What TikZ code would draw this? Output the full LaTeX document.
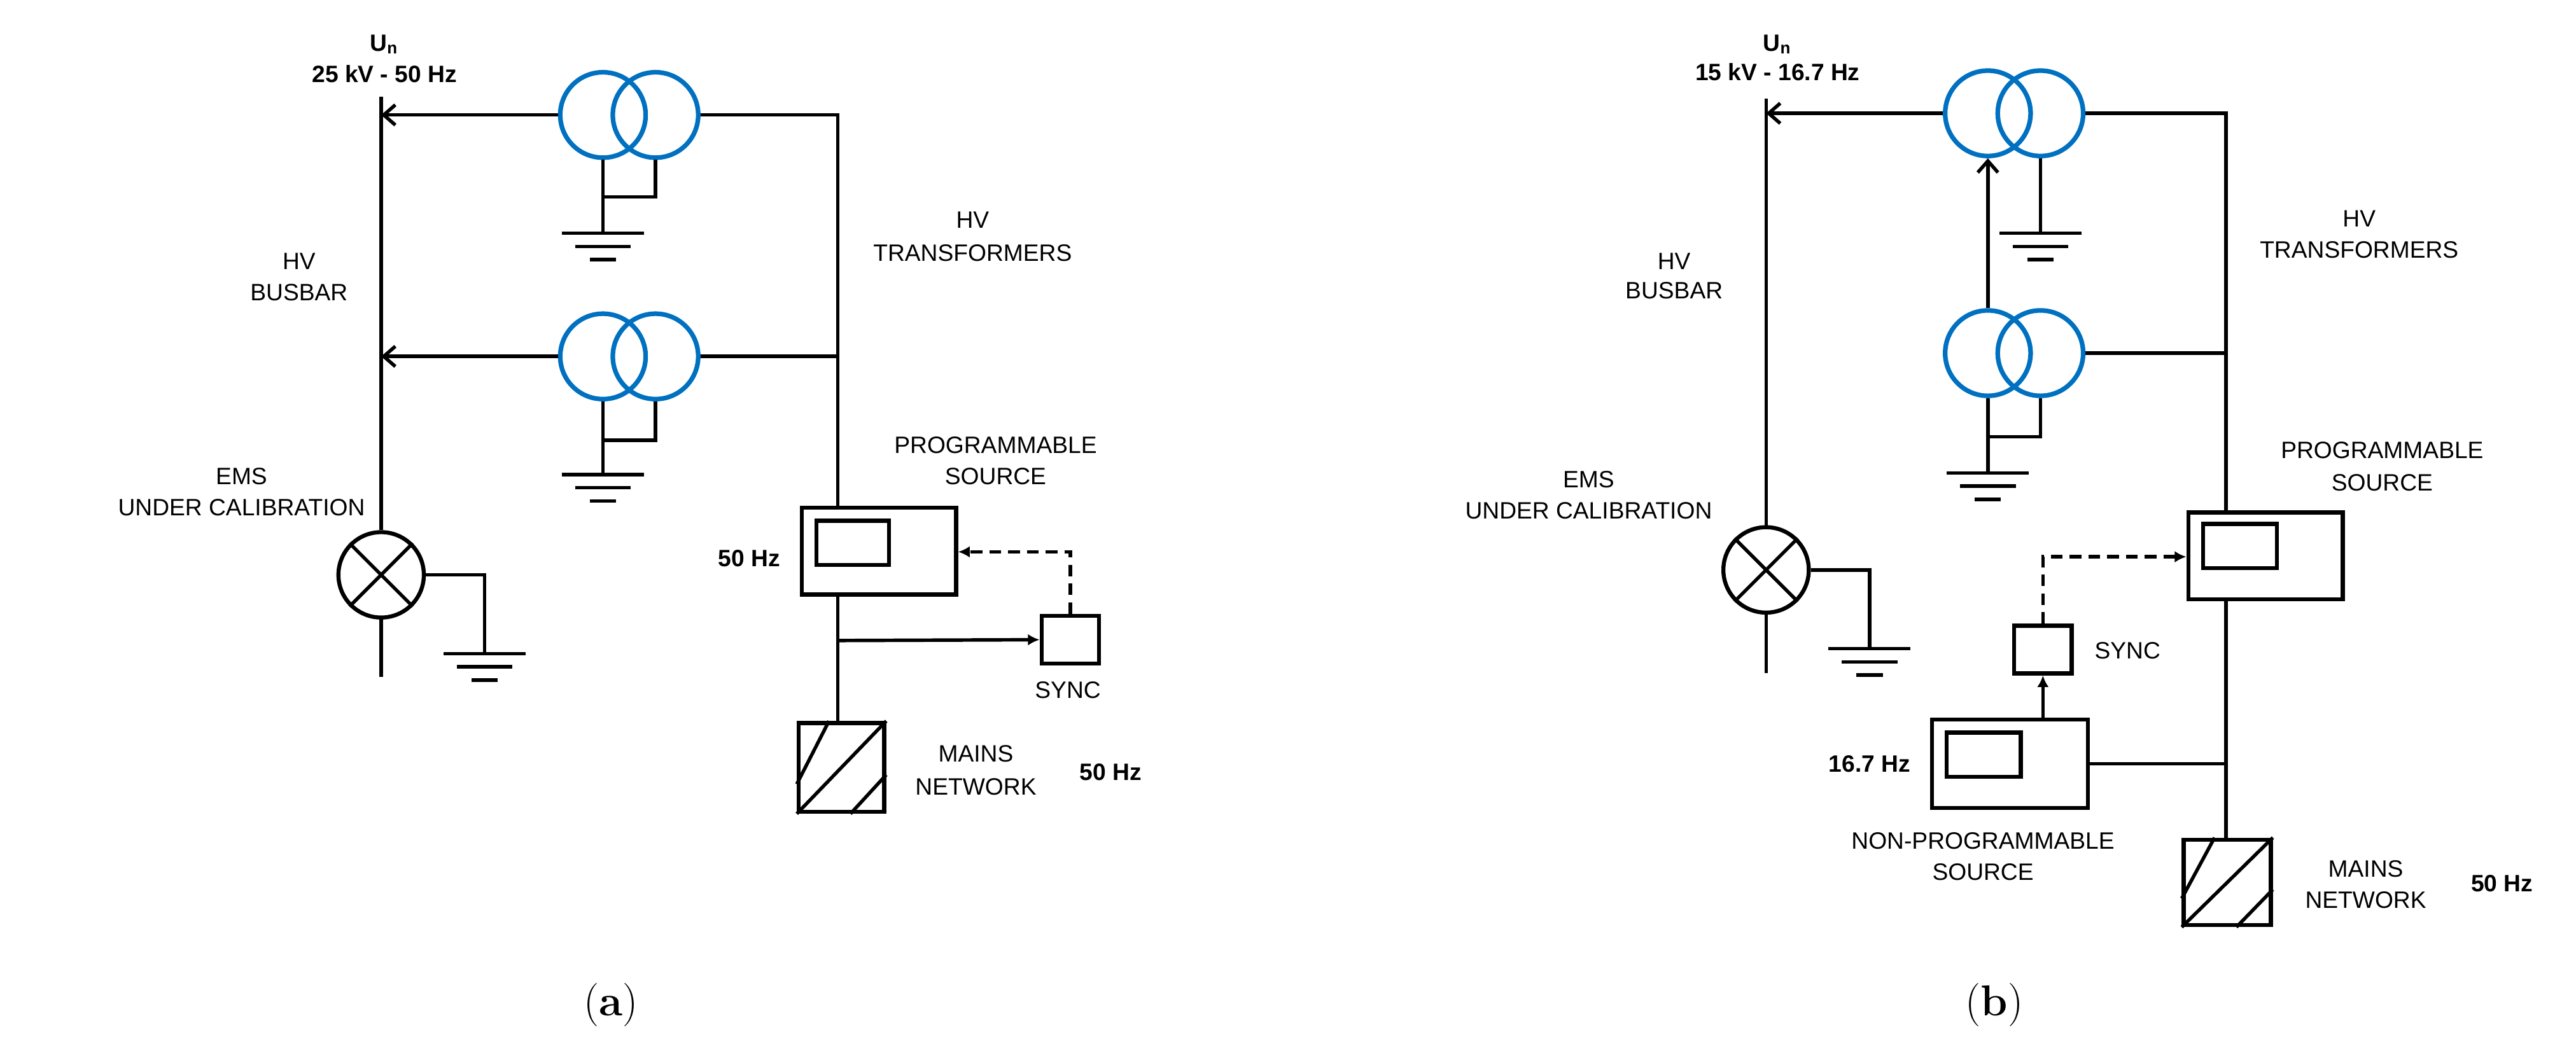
\documentclass[tikz,border=0pt]{standalone}
\usepackage{fontspec}
\setmainfont{Liberation Sans}
\newfontfamily\capfont{Latin Modern Roman}
\usetikzlibrary{arrows.meta,calc}
\definecolor{tblue}{RGB}{0,112,192}
\begin{document}
\begin{tikzpicture}[x=0.02cm,y=-0.02cm,line width=1.2pt,
  lbl/.style={font=\fontsize{8.2}{10}\selectfont,align=center,inner sep=0},
  blbl/.style={font=\fontsize{8.2}{10}\selectfont\bfseries,align=center,inner sep=0},
  coil/.style={draw=tblue,line width=1.6pt,circle,minimum size=52*0.02cm,inner sep=0},
  box/.style={draw,line width=1.4pt},
  arr/.style={-{Straight Barb[length=4pt,width=7pt]}},
  darr/.style={dashed,-{Latex[length=4pt,width=4pt]},dash pattern=on 4pt off 2.5pt},
  sarr/.style={-{Latex[length=4pt,width=4pt]}}]
\useasboundingbox (0,0) rectangle (1568,644);
\newcommand{\gnd}[3]{% x, y top line, name
  \draw (#1-25,#2) -- (#1+25,#2);
  \draw (#1-17,#2+8) -- (#1+17,#2+8);
  \draw (#1-8,#2+16) -- (#1+8,#2+16);}
\newcommand{\hatchbox}[5]{% x1 y1 x2 y2 name
  \node[box,minimum width={(#3-#1)*0.02cm},minimum height={(#4-#2)*0.02cm},inner sep=0,anchor=north west] (#5) at (#1,#2) {};
  \draw ($(#5.south west)!0.32!(#5.north west)$) -- ($(#5.north west)!0.36!(#5.north east)$);
  \draw (#5.south west) -- (#5.north east);
  \draw ($(#5.south west)!0.6!(#5.south east)$) -- ($(#5.south east)!0.42!(#5.north east)$);}
% ================= (a) =================
\coordinate (aBt) at (232,59);
\coordinate (aBb) at (232,412);
\node[blbl] (aUn) at (234,27) {U\textsubscript{n}};
\node[blbl] (aUv) at (234,45) {25 kV - 50 Hz};
\node[coil] (aT1l) at (367,70) {};
\node[coil] (aT1r) at (399,70) {};
\node[coil] (aT2l) at (367,217) {};
\node[coil] (aT2r) at (399,217) {};
\node[draw,circle,minimum size=52*0.02cm,inner sep=0,line width=1.4pt] (aEMS) at (232,350) {};
\draw (aEMS.north west) -- (aEMS.south east) (aEMS.north east) -- (aEMS.south west);
\draw (aBt) -- (aEMS.north);
\draw (aEMS.south) -- (aBb);
\draw[arr] (aT1l.west) -- (aT1l.west -| aBt);
\draw[arr] (aT2l.west) -- (aT2l.west -| aBt);
\node[box,minimum width=94*0.02cm,minimum height=53*0.02cm,inner sep=0] (aPS) at (535,335.5) {};
\draw[line width=1.4pt] (497,317) rectangle (541,344);
\coordinate (aR1) at (510,70);
\draw (aT1r.east) -- (aR1) -- (aR1 |- aPS.north);
\draw (aT2r.east) -- (aT2r.east -| aR1);
% grounds
\draw (aT1l.south) -- (367,142);
\draw (aT1r.south) -- (399,120) -- (367,120);
\gnd{367}{142}{}
\draw (aT2l.south) -- (367,289);
\draw (aT2r.south) -- (399,268) -- (367,268);
\gnd{367}{289}{}
\draw (aEMS.east) -- (295,350) -- (295,398);
\gnd{295}{398}{}
% sync
\node[box,minimum width=35*0.02cm,minimum height=29*0.02cm,inner sep=0] (aSy) at (651.5,389.5) {};
\draw[darr] (aSy.north) -- (651.5,336) -- (aPS.east |- 0,336);
\coordinate (aJ) at (510,390);
\draw[sarr] (aJ) -- (aSy.west);
\hatchbox{485}{439}{537}{493}{aM}
\draw (aPS.south -| aR1) -- (aM.north -| aR1);
\node[lbl] at (182,159) {HV};
\node[lbl] at (182,178) {BUSBAR};
\node[lbl] at (592,134) {HV};
\node[lbl] at (592,154) {TRANSFORMERS};
\node[lbl] at (147,290) {EMS};
\node[lbl] at (147,309) {UNDER CALIBRATION};
\node[lbl] at (606,271) {PROGRAMMABLE};
\node[lbl] at (606,290) {SOURCE};
\node[blbl] at (456,340) {50 Hz};
\node[lbl] at (650,420) {SYNC};
\node[lbl] at (594,459) {MAINS};
\node[lbl] at (594,479) {NETWORK};
\node[blbl] at (676,470) {50 Hz};
\node[font=\capfont\fontsize{15}{17}\selectfont] at (372,612) {(\textbf{a})};
% ================= (b) =================
\coordinate (bBt) at (1075,60);
\coordinate (bBb) at (1075,410);
\node[blbl] at (1082,27) {U\textsubscript{n}};
\node[blbl] at (1082,44) {15 kV - 16.7 Hz};
\node[coil] (bT1l) at (1210,69) {};
\node[coil] (bT1r) at (1242,69) {};
\node[coil] (bT2l) at (1210,215) {};
\node[coil] (bT2r) at (1242,215) {};
\node[draw,circle,minimum size=52*0.02cm,inner sep=0,line width=1.4pt] (bEMS) at (1075,347) {};
\draw (bEMS.north west) -- (bEMS.south east) (bEMS.north east) -- (bEMS.south west);
\draw (bBt) -- (bEMS.north);
\draw (bEMS.south) -- (bBb);
\draw[arr] (bT1l.west) -- (bT1l.west -| bBt);
\draw[arr] (bT2l.north) -- (bT1l.south);
\node[box,minimum width=94*0.02cm,minimum height=53*0.02cm,inner sep=0] (bPS) at (1379,338.5) {};
\draw[line width=1.4pt] (1341,319) rectangle (1386,346);
\coordinate (bR1) at (1355,69);
\draw (bT1r.east) -- (bR1) -- (bR1 |- bPS.north);
\draw (bT2r.east) -- (bT2r.east -| bR1);
\draw (bT1r.south) -- (1242,142);
\gnd{1242}{142}{}
\draw (bT2l.south) -- (1210,288);
\draw (bT2r.south) -- (1242,266) -- (1210,266);
\gnd{1210}{288}{}
\draw (bEMS.east) -- (1138,347) -- (1138,395);
\gnd{1138}{395}{}
\node[box,minimum width=35*0.02cm,minimum height=29*0.02cm,inner sep=0] (bSy) at (1243.5,395.5) {};
\draw[darr] (bSy.north) -- (1243.5,339) -- (bPS.west |- 0,339);
\node[box,minimum width=95*0.02cm,minimum height=54*0.02cm,inner sep=0] (bNP) at (1223.5,465) {};
\draw[line width=1.4pt] (1185,446) rectangle (1230,473);
\draw[sarr] (bNP.north -| bSy) -- (bSy.south);
\hatchbox{1328}{510}{1381}{562}{bM}
\draw (bPS.south -| bR1) -- (bM.north -| bR1);
\draw (bNP.east) -- (bNP.east -| bR1);
\node[lbl] at (1019,159) {HV};
\node[lbl] at (1019,177) {BUSBAR};
\node[lbl] at (1436,133) {HV};
\node[lbl] at (1436,152) {TRANSFORMERS};
\node[lbl] at (967,292) {EMS};
\node[lbl] at (967,311) {UNDER CALIBRATION};
\node[lbl] at (1450,274) {PROGRAMMABLE};
\node[lbl] at (1450,294) {SOURCE};
\node[lbl] at (1295,396) {SYNC};
\node[blbl] at (1138,465) {16.7 Hz};
\node[lbl] at (1207,512) {NON-PROGRAMMABLE};
\node[lbl] at (1207,531) {SOURCE};
\node[lbl] at (1440,529) {MAINS};
\node[lbl] at (1440,548) {NETWORK};
\node[blbl] at (1523,538) {50 Hz};
\node[font=\capfont\fontsize{15}{17}\selectfont] at (1214,612) {(\textbf{b})};
\end{tikzpicture}
\end{document}
